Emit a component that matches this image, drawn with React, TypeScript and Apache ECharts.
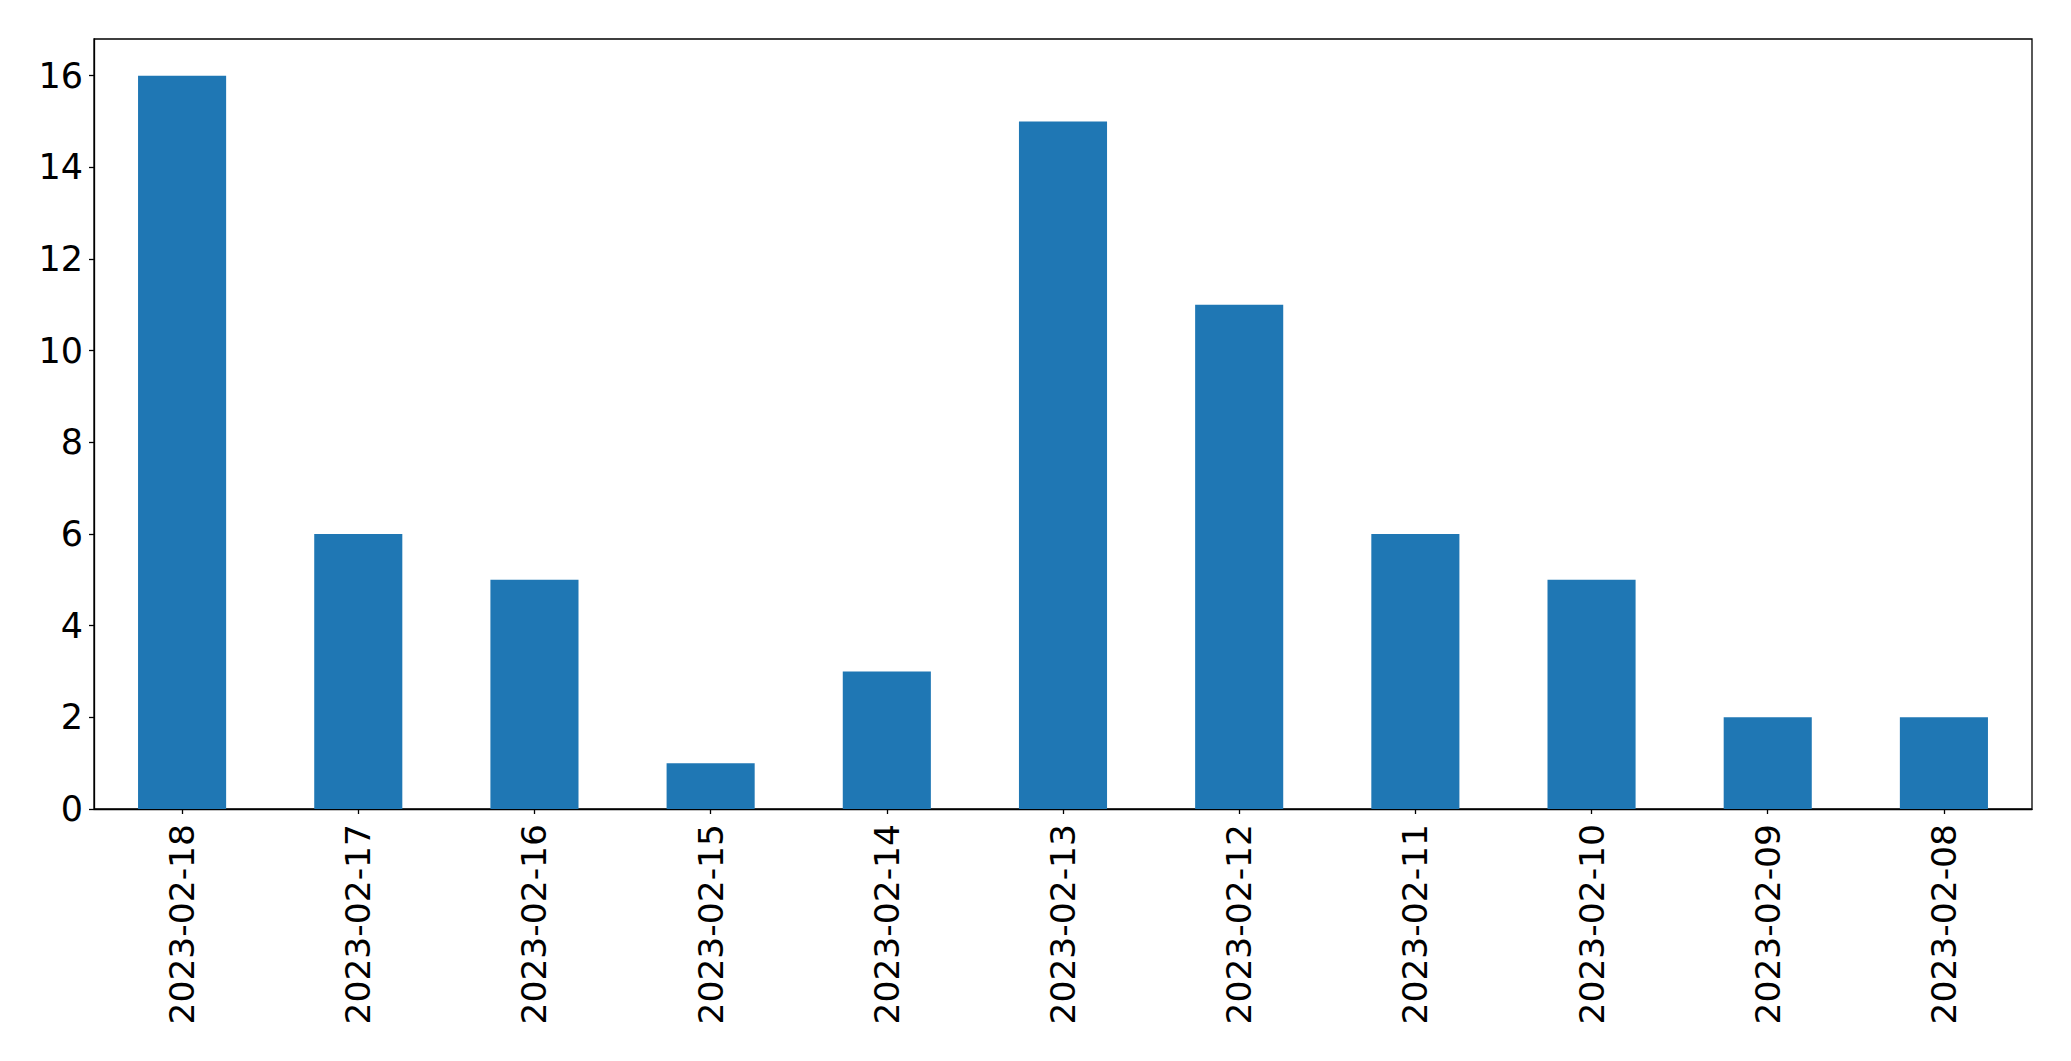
import React, { useEffect, useRef } from "react";
import * as echarts from "echarts";

const categories = [
  "2023-02-18",
  "2023-02-17",
  "2023-02-16",
  "2023-02-15",
  "2023-02-14",
  "2023-02-13",
  "2023-02-12",
  "2023-02-11",
  "2023-02-10",
  "2023-02-09",
  "2023-02-08",
];
const counts = [16, 6, 5, 1, 3, 15, 11, 6, 5, 2, 2];
const yTicks = [0, 2, 4, 6, 8, 10, 12, 14, 16];
const yMax = 16.8;

export default function App() {
  const ref = useRef<HTMLDivElement>(null);
  useEffect(() => {
    if (!ref.current) return;
    const chart = echarts.init(ref.current, null, { renderer: "svg" });
    const font = "DejaVu Sans";
    chart.setOption({
      animation: false,
      backgroundColor: "#ffffff",
      grid: {
        left: 94,
        top: 39,
        right: 39,
        bottom: 252,
        show: true,
        borderColor: "#000000",
        borderWidth: 1.3,
        backgroundColor: "transparent",
      },
      xAxis: {
        type: "category",
        data: categories,
        boundaryGap: true,
        axisLine: { show: true, lineStyle: { color: "#000", width: 1.3 } },
        axisTick: {
          show: true,
          alignWithLabel: true,
          length: 5,
          lineStyle: { color: "#000", width: 1.3 },
        },
        axisLabel: {
          rotate: 90,
          interval: 0,
          margin: 15,
          color: "#000",
          fontFamily: font,
          fontSize: 34.5,
        },
        splitLine: { show: false },
      },
      yAxis: {
        type: "value",
        min: 0,
        max: yMax,
        interval: 2,
        axisLine: { show: true, lineStyle: { color: "#000", width: 1.3 } },
        axisTick: {
          show: true,
          length: 5,
          lineStyle: { color: "#000", width: 1.3 },
          customValues: yTicks,
        },
        axisLabel: {
          margin: 11,
          color: "#000",
          fontFamily: font,
          fontSize: 35,
          customValues: yTicks,
        },
        splitLine: { show: false },
      },
      series: [
        {
          type: "bar",
          data: counts,
          barWidth: "50%",
          itemStyle: { color: "#1f77b4" },
        },
      ],
    });
    return () => chart.dispose();
  }, []);
  return (
    <div
      ref={ref}
      style={{ position: "fixed", left: 0, top: 0, width: 2071, height: 1061, background: "#fff" }}
    />
  );
}
